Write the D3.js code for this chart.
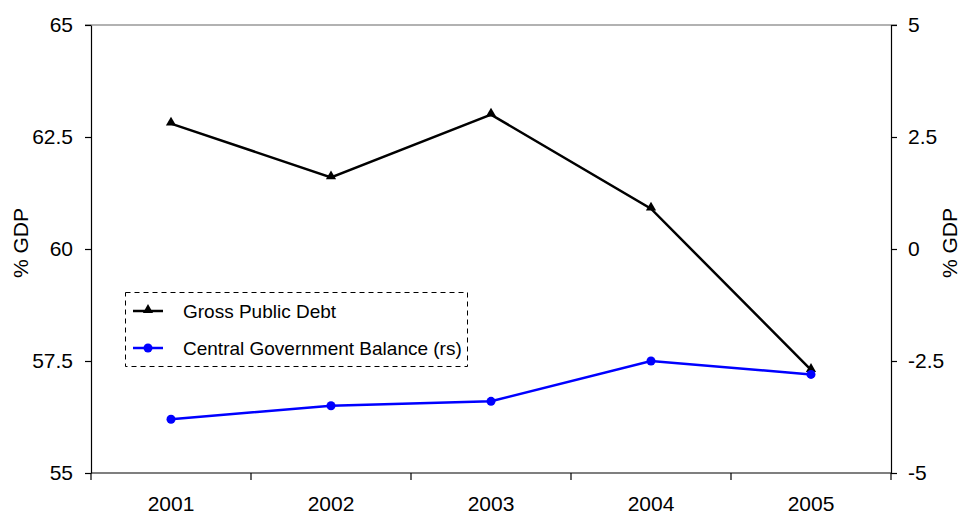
<!DOCTYPE html>
<html>
<head>
<meta charset="utf-8">
<script src="https://cdn.jsdelivr.net/npm/d3@7"></script>
<style>
  body { margin: 0; background: #fff; }
  svg { font-family: "Liberation Sans", Arial, sans-serif; }
  .axis text { font-size: 21px; fill: #000; }
  .axis path, .axis line { stroke: #000; stroke-width: 1.2; }
  .label { font-size: 21px; }
</style>
</head>
<body>
<svg id="chart" width="960" height="514"></svg>
<script>
var years = ["2001", "2002", "2003", "2004", "2005"];
var grossDebt = [62.8, 61.6, 63.0, 60.9, 57.3];
var centralBalance = [-3.8, -3.5, -3.4, -2.5, -2.8];
var leftTicks = [55, 57.5, 60, 62.5, 65];
var rightTicks = [-5, -2.5, 0, 2.5, 5];

var svg = d3.select("#chart");
var plotLeft = 91, plotRight = 891, plotTop = 25, plotBottom = 473;

var xScale = d3.scaleBand().domain(years).range([plotLeft, plotRight]);
var yLeft = d3.scaleLinear().domain([55, 65]).range([plotBottom, plotTop]);
var yRight = d3.scaleLinear().domain([-5, 5]).range([plotBottom, plotTop]);
var plain = function(d) { return String(d); };

// top border
svg.append('line').attr('x1', plotLeft - 6).attr('x2', plotRight + 6).attr('y1', plotTop).attr('y2', plotTop)
  .attr('stroke', '#999').attr('stroke-width', 1.5);

// left axis
svg.append('g').attr('class', 'axis').attr('transform', 'translate(' + plotLeft + ',0)')
  .call(d3.axisLeft(yLeft).tickValues(leftTicks).tickSize(6).tickSizeOuter(0).tickPadding(12).tickFormat(plain));
// right axis
svg.append('g').attr('class', 'axis').attr('transform', 'translate(' + plotRight + ',0)')
  .call(d3.axisRight(yRight).tickValues(rightTicks).tickSize(6).tickSizeOuter(0).tickPadding(11).tickFormat(plain));
// bottom axis with ticks at category boundaries
var xa = svg.append('g').attr('class', 'axis').attr('transform', 'translate(0,' + plotBottom + ')');
xa.append('line').attr('x1', plotLeft).attr('x2', plotRight).attr('stroke', '#000').attr('stroke-width', 1.2);
var bounds = years.map(function(d) { return xScale(d); }).concat([plotRight]);
xa.selectAll('.bt').data(bounds).enter().append('line')
  .attr('x1', function(d) { return d; }).attr('x2', function(d) { return d; })
  .attr('y1', 0).attr('y2', 7).attr('stroke', '#000').attr('stroke-width', 1.2);
xa.selectAll('text').data(years).enter().append('text')
  .attr('x', function(d) { return xScale(d) + xScale.bandwidth() / 2; })
  .attr('y', 38).attr('text-anchor', 'middle').text(function(d) { return d; });

// axis titles
svg.append('text').attr('class', 'label').attr('text-anchor', 'middle')
  .attr('transform', 'translate(28,243) rotate(-90)').text('% GDP');
svg.append('text').attr('class', 'label').attr('text-anchor', 'middle')
  .attr('transform', 'translate(957,243) rotate(-90)').text('% GDP');

var cx = function(d, i) { return xScale(years[i]) + xScale.bandwidth() / 2; };

// gross public debt
var debtLine = d3.line().x(cx).y(function(d) { return yLeft(d); });
svg.append('path').datum(grossDebt).attr('d', debtLine)
  .attr('fill', 'none').attr('stroke', '#000').attr('stroke-width', 2.5);
var tri = d3.symbol().type(d3.symbolTriangle).size(45);
svg.selectAll('.tri').data(grossDebt).enter().append('path')
  .attr('d', tri)
  .attr('transform', function(d, i) { return 'translate(' + cx(d, i) + ',' + (yLeft(d) - 1) + ')'; })
  .attr('fill', '#000');

// central government balance
var balLine = d3.line().x(cx).y(function(d) { return yRight(d); });
svg.append('path').datum(centralBalance).attr('d', balLine)
  .attr('fill', 'none').attr('stroke', '#0000ff').attr('stroke-width', 2.5);
svg.selectAll('.dot').data(centralBalance).enter().append('circle')
  .attr('cx', cx).attr('cy', function(d) { return yRight(d); })
  .attr('r', 4.5).attr('fill', '#0000ff');

// legend
var lg = svg.append('g');
lg.append('rect').attr('x', 125.5).attr('y', 292.5).attr('width', 342).attr('height', 74)
  .attr('fill', '#fff').attr('stroke', '#000').attr('stroke-dasharray', '5,4').attr('stroke-width', 1);
var legendItems = [
  { name: 'Gross Public Debt', color: '#000', sym: 'tri' },
  { name: 'Central Government Balance (rs)', color: '#0000ff', sym: 'dot' }
];
legendItems.forEach(function(it, i) {
  var y = 311 + i * 37;
  lg.append('line').attr('x1', 133).attr('x2', 163).attr('y1', y).attr('y2', y)
    .attr('stroke', it.color).attr('stroke-width', 2.5);
  if (it.sym === 'tri') {
    lg.append('path').attr('d', tri).attr('transform', 'translate(148,' + (y - 1) + ')').attr('fill', it.color);
  } else {
    lg.append('circle').attr('cx', 148).attr('cy', y).attr('r', 4.5).attr('fill', it.color);
  }
  lg.append('text').attr('class', 'label').attr('x', 183).attr('y', y + 6.5).style('font-size', '19px').text(it.name);
});
</script>
</body>
</html>
